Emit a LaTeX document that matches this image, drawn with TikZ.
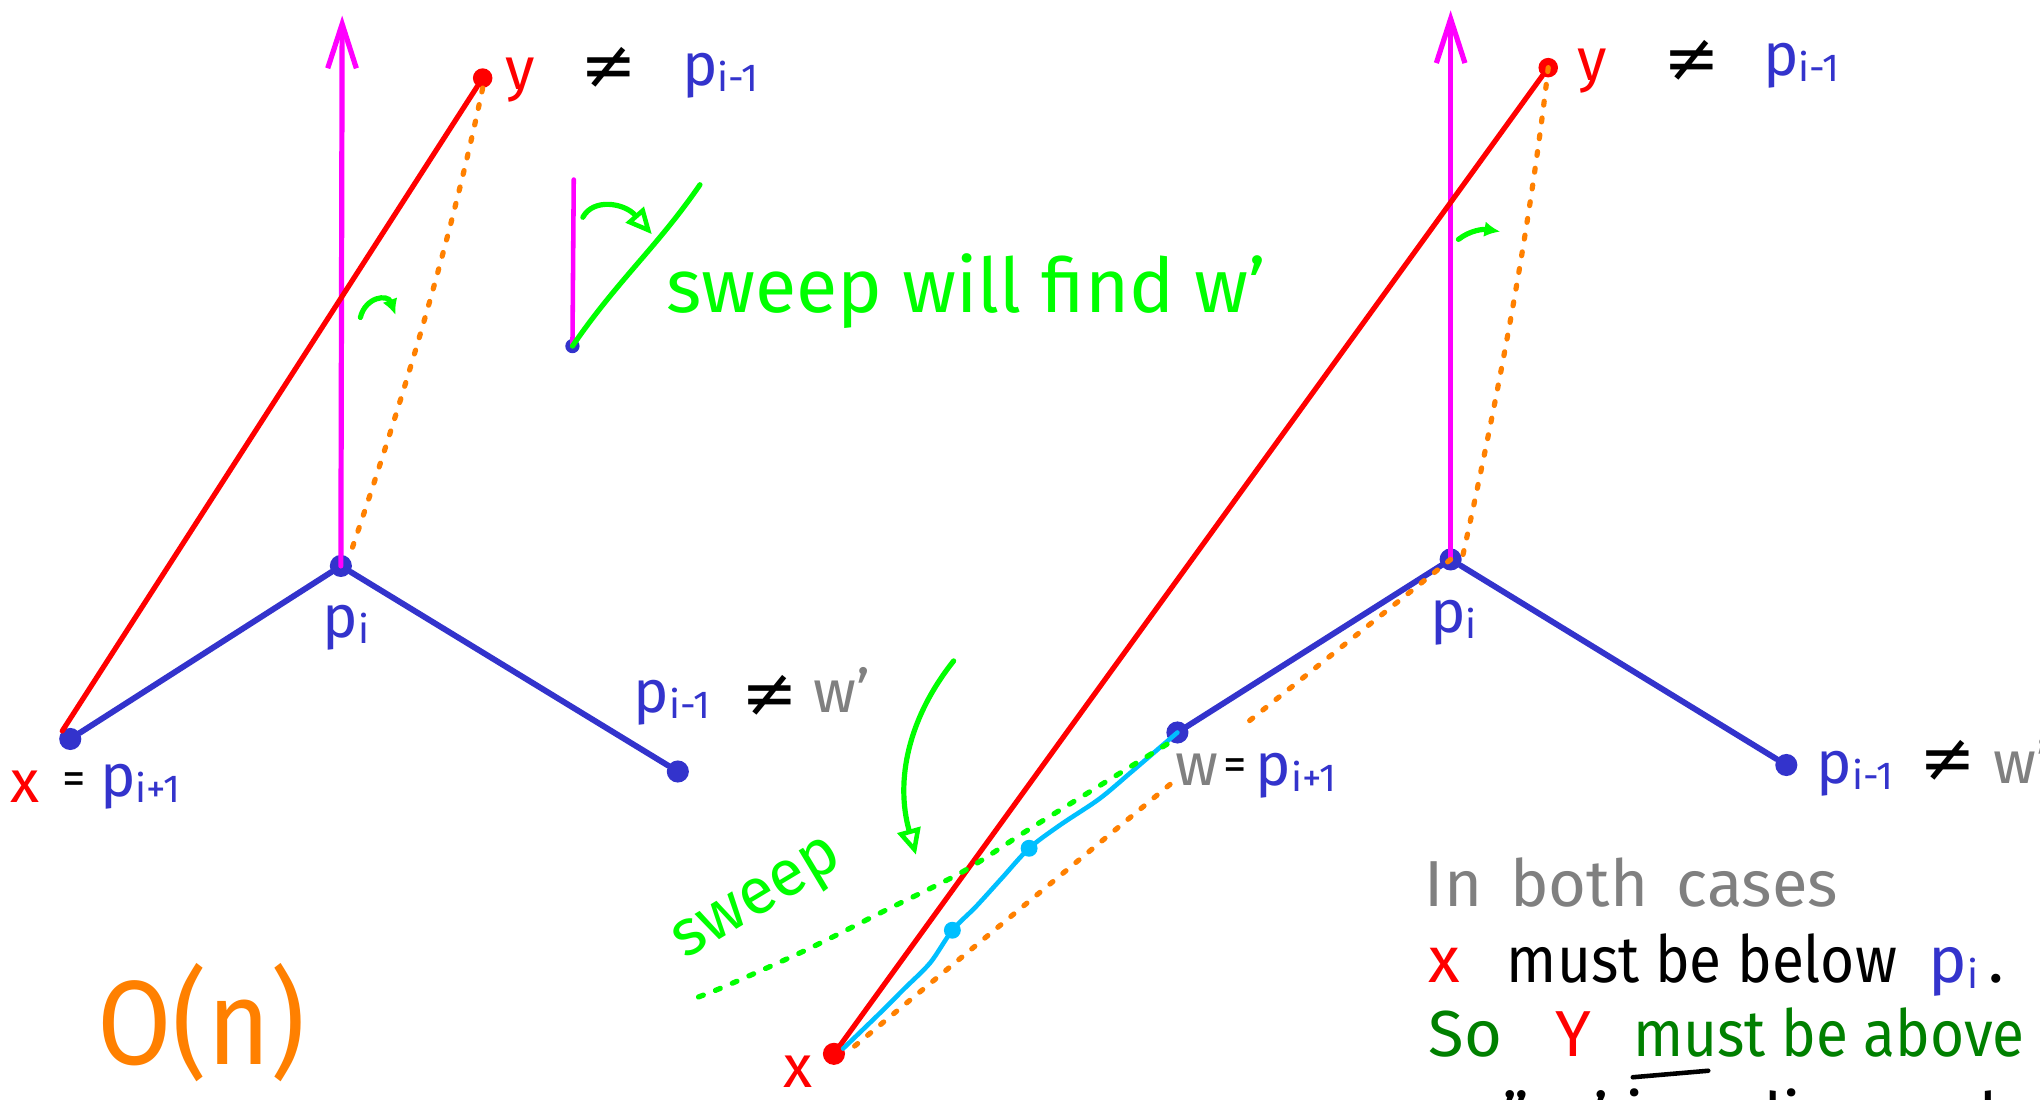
\documentclass[tikz,border=0pt]{standalone}
\usepackage{fontspec}
\usepackage{graphicx}
\setmainfont{Fira Sans}
\newfontfamily\symf{DejaVu Sans}
\usetikzlibrary{arrows.meta}
\definecolor{mag}{HTML}{FF00FF}
\definecolor{rd}{HTML}{FF0000}
\definecolor{bl}{HTML}{3333CC}
\definecolor{org}{HTML}{FF8000}
\definecolor{grn}{HTML}{00FF00}
\definecolor{dgrn}{HTML}{008000}
\definecolor{gry}{HTML}{808080}
\definecolor{cyn}{HTML}{00BFFF}
\newcommand\sbx[1]{\raisebox{-0.1em}{\fontsize{30}{30}\selectfont #1}}
\newcommand\nar[1]{\scalebox{0.9}[1.0]{#1}}
\begin{document}
\begin{tikzpicture}[x=1pt,y=-1pt,
  pdot/.style={circle,fill=#1,inner sep=0pt,minimum size=17pt},
  sdot/.style={circle,fill=#1,inner sep=0pt,minimum size=13pt},
  lbl/.style={inner sep=0pt,anchor=base west,font=\fontsize{46}{50}\selectfont},
  txt/.style={inner sep=0pt,anchor=base west,font=\fontsize{50}{54}\selectfont},
  sym/.style={inner sep=0pt,anchor=center,font=\symf\fontsize{52}{56}\selectfont},
  redl/.style={draw=rd,line width=4pt,line cap=round},
  bluel/.style={draw=bl,line width=4.5pt,line cap=round},
  magl/.style={draw=mag,line width=4pt,line cap=round,-{Straight Barb[length=34pt,width=22pt,line width=4pt]}},
  orgd/.style={draw=org,line width=4pt,line cap=round,dash pattern=on 3pt off 10pt},
  grnl/.style={draw=grn,line width=4pt,line cap=round},
  grnd/.style={draw=grn,line width=4pt,line cap=round,dash pattern=on 4pt off 10pt},
  cynl/.style={draw=cyn,line width=3.5pt,line cap=round}]
\useasboundingbox (0,0) rectangle (1568,845);
\clip (0,0) rectangle (1568,845);
\fill[white] (0,0) rectangle (1568,845);

% ---------------- left diagram ----------------
\node[pdot=bl] (lpi) at (262,435) {};
\node[pdot=bl] (lx) at (54,568) {};
\node[pdot=bl] (lpm) at (521,593) {};
\node[sdot=rd,minimum size=15pt] (ly) at (371,60) {};
\coordinate (ltop) at (263,12);
\draw[magl] (lpi.center) -- (ltop);
\draw[bluel] (lx) -- (lpi) -- (lpm);
\draw[redl] (lx.north west) -- (ly);
\draw[orgd] (ly.south) .. controls (345,191) and (309,309) .. (lpi.north east);
\draw[grnl,-{Latex[length=12pt,width=12pt]}] (277,244) .. controls (281,228) and (298,226) .. (304,242);

% inset
\node[sdot=bl,minimum size=11pt] (ins) at (440,266) {};
\coordinate (insm) at (441,138);
\coordinate (insg) at (538,142);
\draw[draw=mag,line width=3.5pt,line cap=round] (ins.center) -- (insm);
\draw[grnl] (ins.center) .. controls (475,215) and (505,190) .. (insg);
\draw[grnl,-{Triangle[open,length=20pt,width=18pt,line width=3.5pt]}] (448,167) .. controls (456,152) and (480,156) .. (501,180);
\node[txt,grn,font=\fontsize{58}{60}\selectfont] (sw) at (512,240) {sweep will find w'};

% labels left
\node[lbl,rd] at (388,69) {y};
\node[sym] at (468,52) {≠};
\node[lbl,bl] at (524,66) {p\sbx{i-1}};
\node[lbl,bl] at (248,490) {p\sbx{i}};
\node[lbl,rd] at (8,617) {x};
\node[lbl,font=\fontsize{36}{40}\selectfont] at (48,611) {=};
\node[lbl,bl] at (77,612) {p\sbx{i+1}};
\node[lbl,bl] at (487,548) {p\sbx{i-1}};
\node[sym] at (592,535) {≠};
\node[lbl,gry] at (625,548) {w'};
\node[lbl,org,font=\fontsize{92}{96}\selectfont] at (75,818) {\scalebox{0.9}[1.0]{O(n)}};

% ---------------- right diagram ----------------
\node[pdot=bl] (rpi) at (1115,430) {};
\node[pdot=bl] (rw) at (905,563) {};
\node[pdot=bl] (rpm) at (1373,588) {};
\node[pdot=rd] (rx) at (641,810) {};
\node[pdot=rd,minimum size=15pt] (ry) at (1190,52) {};
\node[sdot=cyn] (c1) at (791,652) {};
\node[sdot=cyn] (c2) at (732,715) {};
\coordinate (rtop) at (1115,8);
\draw[magl] (rpi.center) -- (rtop);
\draw[bluel] (rw) -- (rpi) -- (rpm);
\draw[redl] (rx.center) -- (ry);
\draw[orgd] (ry.center) .. controls (1175,182) and (1151,306) .. (rpi.east);
\path (rpi.center) -- (rx.center) coordinate[pos=0.335] (oa) coordinate[pos=0.455] (ob);
\draw[orgd] (rpi.center) -- (oa);
\draw[orgd] (ob) -- (rx.east);
\draw[cynl] plot[smooth] coordinates {(rw.center) (870,593) (845,614) (815,634) (c1) (770,675) (750,697) (c2) (715,740) (695,760) (675,780) (648,806)};
\draw[grnd] plot[smooth] coordinates {(897,572) (845,604) (790,638) (740,670) (680,700) (620,730) (560,757) (535,767)};
\draw[grnl,-{Triangle[open,length=20pt,width=18pt,line width=3.5pt]}] (733,508) .. controls (698,552) and (688,600) .. (704,657);
\draw[grnl,-{Latex[length=12pt,width=12pt]}] (1121,184) .. controls (1130,177) and (1140,176) .. (1153,178);
\node[grn,inner sep=0pt,rotate=31,font=\fontsize{50}{54}\selectfont] at (584,694) {sweep};

% labels right
\node[lbl,rd] at (1212,62) {y};
\node[sym] at (1300,47) {≠};
\node[lbl,bl] at (1355,58) {p\sbx{i-1}};
\node[lbl,bl] at (1099,486) {p\sbx{i}};
\node[lbl,gry] at (903,604) {w};
\node[lbl,font=\fontsize{36}{40}\selectfont] at (940,600) {=};
\node[lbl,bl] at (965,604) {p\sbx{i+1}};
\node[lbl,bl] at (1396,602) {p\sbx{i-1}};
\node[sym] at (1497,585) {≠};
\node[lbl,gry] at (1532,602) {w'};
\node[lbl,rd] at (602,836) {x};

% text block
\node[txt,gry] at (1095,697) {In\, both\, cases};
\node[txt,rd] at (1098,755) {x};
\node[txt] at (1158,755) {\nar{must be below}};
\node[txt,bl] at (1482,755) {p\sbx{i}\,{\color{black}.}};
\node[txt,dgrn] at (1098,812) {So};
\node[txt,rd] at (1195,812) {Y};
\node[txt,dgrn] at (1255,812) {\nar{must be above}};
\draw[line width=3.5pt,line cap=round] (1255,828) -- (1313,823);
\node[txt] at (1155,876) {'' w' is a diagonal};
\end{tikzpicture}
\end{document}
